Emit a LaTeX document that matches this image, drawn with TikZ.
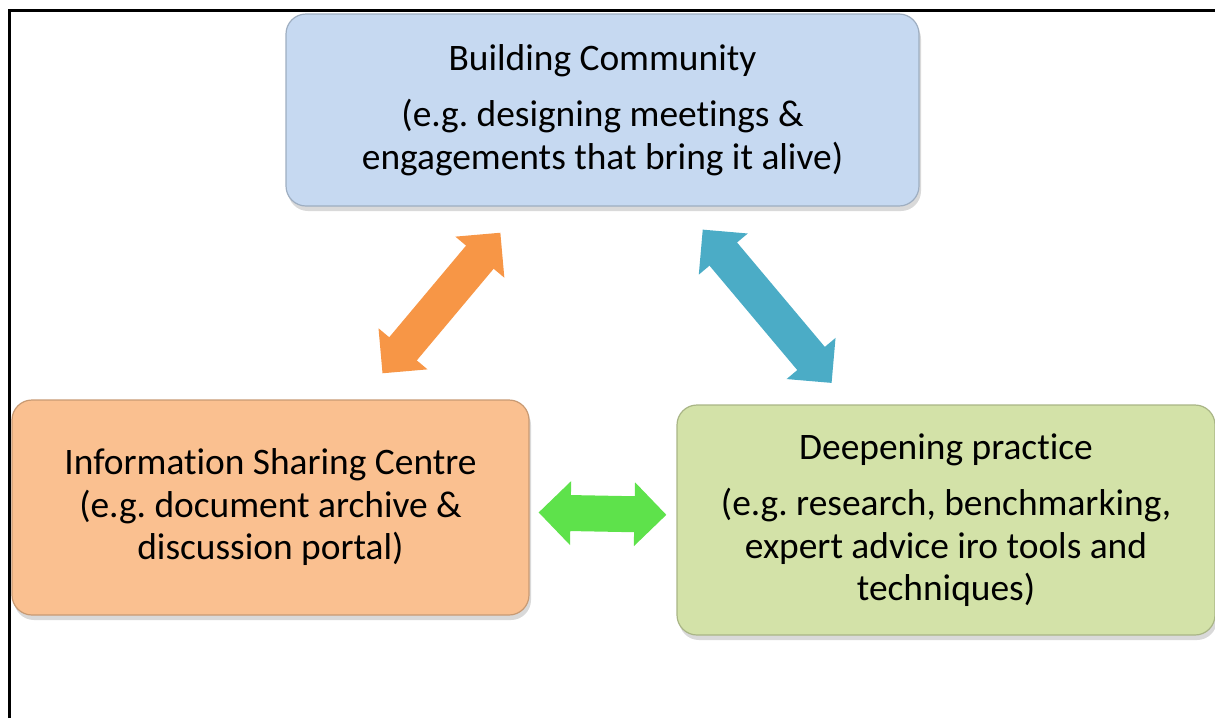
\documentclass[tikz,border=0pt]{standalone}
\usepackage{fontspec}
\setmainfont[Ligatures=NoCommon]{Carlito}
\usepackage{tikz}
\usetikzlibrary{arrows.meta,shadows}
\definecolor{buildblue}{HTML}{C6D9F1}
\definecolor{infoorange}{HTML}{FAC090}
\definecolor{deepgreen}{HTML}{D3E2A8}
\definecolor{arroworange}{HTML}{F79646}
\definecolor{arrowblue}{HTML}{4BACC6}
\definecolor{arrowgreen}{HTML}{5EE24B}
\frenchspacing

\begin{document}
\begin{tikzpicture}[x=1pt,y=-1pt,
        box/.style={rectangle,rounded corners=20pt,draw=#1!80!black,line width=1.2pt,fill=#1,
            align=center,font=\fontsize{37.4}{42.5}\selectfont,
            drop shadow={shadow xshift=2pt,shadow yshift=-5pt,opacity=0.3}},
        link/.style={line width=36pt,draw=#1,
            {Triangle[length=32pt,width=62pt]}-{Triangle[length=32pt,width=62pt]}},
        ]
        \useasboundingbox (0,0) rectangle (1215,718);

        % Frame
        \draw[line width=3pt] (9,718) -- (9,10) -- (1215,10);

        % Boxes
        \node[box=buildblue,minimum width=633pt,minimum height=192pt] (build) at (602.5,110)
            {Building Community\\[14pt](e.g. designing meetings \&\\engagements that bring it alive)};
        \node[box=infoorange,minimum width=517pt,minimum height=215pt] (info) at (270.5,507.5)
            {Information Sharing Centre\\(e.g. document archive \&\\discussion portal)};
        \node[box=deepgreen,minimum width=538pt,minimum height=230pt] (deep) at (946,520)
            {Deepening practice\\[14pt](e.g. research, benchmarking,\\expert advice iro tools and\\techniques)};

        % Connections
        \draw[link=arroworange,shorten <=34pt,shorten >=34pt] (info) -- (build);
        \draw[link=arrowblue,shorten <=30pt,shorten >=28pt] (build) -- (deep);
        \draw[link=arrowgreen,shorten <=9pt,shorten >=10pt] (info) -- (deep);
    \end{tikzpicture}
\end{document}
